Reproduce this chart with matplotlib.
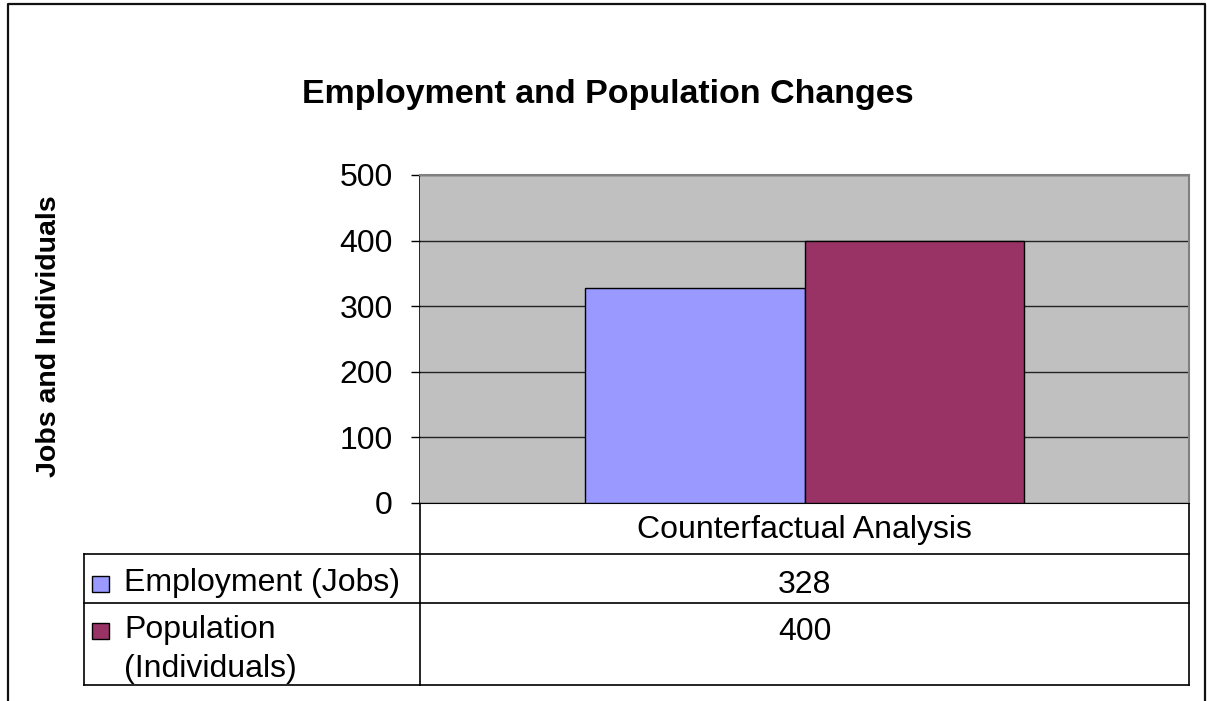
import matplotlib.pyplot as plt
from matplotlib.patches import Rectangle

# chart data
category = "Counterfactual Analysis"
series_names = ["Employment (Jobs)", "Population\n(Individuals)"]
series_values = [328, 400]
series_colors = ["#9999FF", "#993366"]
y_ticks = [0, 100, 200, 300, 400, 500]

W, H = 1207, 701
FONT = "Liberation Sans"
plt.rcParams["font.family"] = FONT
BODY = 23

fig = plt.figure(figsize=(W / 100, H / 100), dpi=100)

# pixel-space layer for the frame, titles and the data table
canvas = fig.add_axes([0, 0, 1, 1], zorder=0)
canvas.set_xlim(0, W)
canvas.set_ylim(H, 0)
canvas.set_axis_off()
canvas.patch.set_alpha(0)

# plot area in pixels
px_l, px_r, px_t, px_b = 420, 1189, 175, 503
ax = fig.add_axes([px_l / W, 1 - px_b / H, (px_r - px_l) / W, (px_b - px_t) / H], zorder=1)
ax.set_facecolor("#C0C0C0")

n = len(series_values)
group = 0.5714
bar_w = group / n
for i, (v, c) in enumerate(zip(series_values, series_colors)):
    x = -group / 2 + bar_w * (i + 0.5)
    ax.bar(x, v, width=bar_w, color=c, edgecolor="black", linewidth=1, zorder=3)

ax.set_xlim(-0.5, 0.5)
ax.set_ylim(y_ticks[0], y_ticks[-1])
ax.set_yticks(y_ticks)
ax.set_xticks([])
ax.yaxis.grid(True, color="#222222", linewidth=1)
ax.set_axisbelow(True)
ax.tick_params(axis="y", direction="out", length=6.5, width=1, pad=13,
               labelsize=BODY, colors="black")
for side in ("top", "right"):
    ax.spines[side].set_color("#808080")
    ax.spines[side].set_linewidth(1.5)
ax.spines["left"].set_visible(False)
ax.spines["bottom"].set_color("black")

# outer chart frame
canvas.plot([7.5, 7.5, 1205, 1205], [H, 4, 4, H], color="#111111", lw=1.6)

# title and axis label
canvas.text(608, 94, "Employment and Population Changes", ha="center", va="center",
            fontsize=24.5, fontweight="bold")
canvas.text(49, 336, "Jobs and Individuals", rotation=90, ha="center", va="center",
            fontsize=20.5, fontweight="bold")

# data table below the plot
tbl_l, row_tops = 84, [554, 603, 685]
lc = "black"
canvas.plot([px_l, px_l], [px_t, row_tops[-1]], color=lc, lw=1.2)
canvas.plot([px_r, px_r], [px_b, row_tops[-1]], color=lc, lw=1.2)
canvas.plot([tbl_l, tbl_l], [row_tops[0], row_tops[-1]], color=lc, lw=1.2)
for y in row_tops:
    canvas.plot([tbl_l, px_r], [y, y], color=lc, lw=1.2)

cx = (px_l + px_r) / 2
canvas.text(cx, 530, category, ha="center", va="center", fontsize=BODY)

text_y = [585, 632]
for name, v, c, ty in zip(series_names, series_values, series_colors, text_y):
    canvas.add_patch(Rectangle((92, ty - 9), 17, 16, facecolor=c, edgecolor="black", lw=1))
    canvas.text(124, ty - 17, name, ha="left", va="top", fontsize=BODY, linespacing=1.38)
    canvas.text(cx, ty, f"{v:g}", ha="center", va="center", fontsize=BODY)

fig.savefig("out.png", dpi=100)
